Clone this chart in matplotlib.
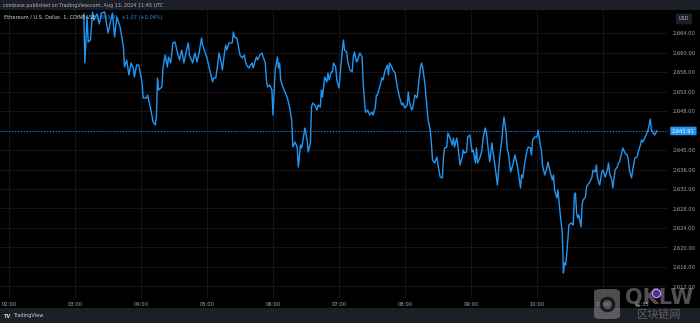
import matplotlib
matplotlib.use("Agg")
import matplotlib.pyplot as plt
from matplotlib.patches import Rectangle, FancyBboxPatch
from matplotlib.lines import Line2D
from matplotlib.transforms import blended_transform_factory

# ETH/USD 1 minute, Coinbase - minutes counted from 02:00 UTC
minutes = [68, 69, 71, 72, 74, 76, 77, 80, 82, 84, 87, 90, 94, 96, 98, 101, 104, 105, 107, 109,
           111, 113, 114, 116, 118, 121, 122, 125, 126, 129, 131, 133, 134, 135, 136, 139, 140, 142, 144, 145,
           147, 149, 151, 153, 155, 157, 159, 162, 163, 164, 167, 169, 171, 173, 175, 176, 180, 182, 184, 185,
           186, 188, 190, 191, 193, 194, 196, 197, 198, 200, 203, 204, 205, 207, 208, 210, 212, 214, 215, 216,
           218, 221, 222, 224, 225, 226, 228, 230, 231, 233, 234, 235, 237, 239, 240, 242, 244, 245, 246, 247,
           249, 252, 253, 254, 255, 257, 258, 260, 262, 263, 265, 266, 267, 269, 271, 272, 274, 275, 276, 278,
           280, 281, 283, 284, 285, 287, 289, 290, 291, 293, 294, 295, 297, 298, 300, 302, 303, 304, 305, 307,
           308, 310, 312, 313, 314, 316, 317, 319, 321, 322, 324, 325, 326, 328, 330, 331, 333, 334, 335, 337,
           339, 340, 342, 344, 345, 346, 348, 349, 351, 353, 354, 355, 357, 358, 360, 362, 363, 364, 366, 367,
           369, 371, 372, 374, 375, 376, 378, 380, 381, 383, 384, 385, 387, 389, 390, 392, 394, 395, 396, 398,
           399, 401, 403, 404, 405, 407, 408, 410, 412, 413, 414, 416, 417, 419, 421, 422, 424, 425, 426, 428,
           430, 431, 433, 434, 435, 437, 439, 440, 442, 444, 445, 446, 448, 449, 450, 452, 453, 454, 456, 458,
           460, 462, 463, 465, 466, 467, 469, 471, 472, 474, 475, 476, 478, 480, 481, 483, 484, 485, 487, 489,
           490, 492, 494, 495, 496, 498, 499, 501, 503, 504, 505, 506, 507, 508, 509, 511, 513, 514, 515, 516,
           517, 518, 520, 521, 522, 524, 525, 526, 528, 530, 531, 533, 534, 535, 537, 539, 540, 542, 544, 545,
           546, 548, 549, 551, 553, 554, 555, 557, 558, 560, 562, 563, 564, 566, 567, 569, 571, 572, 574, 575,
           576, 578, 580, 581, 583, 584, 585, 587, 589]

prices = [2667.90, 2657.85, 2667.28, 2662.15, 2662.56, 2668.31, 2666.67, 2667.90, 2665.85, 2668.10,
          2668.31, 2664.00, 2668.10, 2663.18, 2667.28, 2665.23, 2661.13, 2657.03, 2658.46, 2655.38,
          2657.85, 2656.82, 2654.97, 2657.44, 2657.44, 2653.74, 2650.67, 2650.67, 2651.28, 2648.21,
          2645.74, 2645.13, 2646.77, 2654.77, 2652.31, 2652.92, 2656.82, 2659.49, 2657.03, 2659.08,
          2657.85, 2661.95, 2662.15, 2660.10, 2658.46, 2660.51, 2657.85, 2661.13, 2661.95, 2659.49,
          2657.85, 2659.90, 2658.05, 2660.10, 2662.97, 2661.54, 2658.87, 2656.82, 2654.97, 2653.95,
          2654.77, 2654.77, 2658.05, 2659.90, 2657.85, 2656.41, 2660.10, 2661.54, 2660.51, 2661.95,
          2661.95, 2664.21, 2663.18, 2662.97, 2661.95, 2659.49, 2658.87, 2659.49, 2658.05, 2657.44,
          2656.82, 2657.85, 2656.82, 2658.46, 2659.08, 2658.46, 2659.49, 2659.90, 2659.08, 2657.85,
          2654.36, 2652.92, 2653.33, 2652.31, 2647.18, 2656.41, 2659.08, 2656.82, 2657.85, 2654.36,
          2652.92, 2651.28, 2650.67, 2649.85, 2648.82, 2646.15, 2640.61, 2641.64, 2640.61, 2636.51,
          2641.02, 2640.41, 2641.64, 2644.51, 2642.05, 2639.59, 2641.44, 2648.82, 2649.64, 2649.23,
          2648.21, 2649.23, 2648.82, 2652.31, 2650.87, 2654.97, 2653.95, 2655.80, 2654.36, 2656.00,
          2656.00, 2657.85, 2657.03, 2654.36, 2652.72, 2657.85, 2660.51, 2662.56, 2660.51, 2660.10,
          2658.05, 2656.41, 2656.00, 2659.08, 2660.10, 2658.05, 2658.46, 2659.90, 2659.08, 2653.74,
          2647.80, 2647.80, 2648.21, 2647.18, 2647.80, 2647.18, 2648.82, 2651.28, 2651.28, 2652.92,
          2654.77, 2654.36, 2656.41, 2657.44, 2655.38, 2657.85, 2657.03, 2656.41, 2655.80, 2652.92,
          2651.90, 2650.87, 2649.23, 2649.64, 2648.62, 2649.23, 2651.90, 2649.85, 2648.21, 2648.62,
          2651.28, 2650.67, 2652.92, 2656.82, 2657.85, 2657.03, 2653.74, 2648.82, 2646.15, 2644.10,
          2641.44, 2637.95, 2637.33, 2638.56, 2636.92, 2634.46, 2634.26, 2638.56, 2640.41, 2640.61,
          2643.49, 2642.46, 2641.02, 2642.46, 2640.61, 2642.46, 2641.02, 2636.92, 2638.56, 2640.00,
          2639.38, 2639.59, 2642.67, 2643.08, 2639.59, 2640.00, 2637.33, 2640.41, 2637.33, 2638.36,
          2640.00, 2642.46, 2644.51, 2643.69, 2641.44, 2637.54, 2641.44, 2639.59, 2636.51, 2632.82,
          2635.49, 2638.36, 2642.05, 2644.72, 2646.77, 2643.49, 2640.00, 2639.38, 2635.49, 2636.92,
          2638.97, 2636.92, 2635.49, 2632.21, 2634.87, 2634.26, 2637.54, 2640.00, 2640.61, 2640.41,
          2638.97, 2642.05, 2642.67, 2642.67, 2644.10, 2641.02, 2640.00, 2636.92, 2634.87, 2636.31,
          2637.54, 2635.49, 2633.85, 2634.87, 2631.80, 2630.15, 2631.80, 2627.08, 2622.97, 2614.77,
          2616.82, 2616.41, 2618.46, 2621.54, 2624.62, 2625.03, 2624.62, 2630.77, 2631.18, 2627.08,
          2626.05, 2626.67, 2624.21, 2628.72, 2629.74, 2630.36, 2632.41, 2632.82, 2633.44, 2634.46,
          2635.90, 2635.49, 2636.92, 2634.26, 2632.82, 2635.49, 2635.90, 2634.46, 2635.90, 2637.33,
          2635.28, 2633.85, 2632.21, 2635.90, 2636.51, 2637.33, 2637.54, 2639.38, 2640.41, 2639.38,
          2638.97, 2637.95, 2635.90, 2634.26, 2635.90, 2638.36, 2638.56, 2639.59, 2641.02, 2642.05,
          2641.64, 2642.46, 2643.49, 2644.10, 2646.36, 2644.10, 2643.69, 2643.08, 2643.91]

last_price = 2643.91
price_ticks = [2612, 2616, 2620, 2624, 2628, 2632, 2636, 2640, 2648, 2652, 2656, 2660, 2664]
time_ticks = [0, 60, 120, 180, 240, 300, 360, 420, 480, 540, 575]
time_labels = ["02:00", "03:00", "04:00", "05:00", "06:00", "07:00", "08:00", "09:00", "10:00", "11:00", "11:35"]

line_col = "#2196f3"
text_col = "#a8abb3"
band_col = "#1c1f27"
grid_col = "#15181e"

fig = plt.figure(figsize=(7, 3.23), dpi=100, facecolor="black")

# top and bottom bands
fig.patches.append(Rectangle((0, 313 / 323), 1, 10 / 323, transform=fig.transFigure,
                             facecolor=band_col, edgecolor="none", zorder=0))
fig.patches.append(Rectangle((0, 0), 1, 15 / 323, transform=fig.transFigure,
                             facecolor=band_col, edgecolor="none", zorder=0))

ax = fig.add_axes([0, 25 / 323, 668 / 700, 288 / 323], facecolor="black")
ax.set_xlim(-8.18, 599.1)
ax.set_ylim(2609.64, 2668.72)

for t in time_ticks[:-1]:
    ax.axvline(t, color=grid_col, lw=0.6, zorder=0)
for p in price_ticks + [2644]:
    ax.axhline(p, color=grid_col, lw=0.6, zorder=0)

ax.plot(minutes, prices, color=line_col, lw=1.0, zorder=3)
ax.axhline(last_price, color=line_col, lw=0.7, ls=(0, (1, 2)), zorder=2)

for s in ax.spines.values():
    s.set_visible(False)
ax.yaxis.tick_right()
ax.set_yticks(price_ticks)
ax.set_yticklabels([f"{p:,.2f}" for p in price_ticks])
ax.set_xticks(time_ticks)
ax.set_xticklabels(time_labels)
ax.tick_params(axis="both", length=0, labelsize=3.7, colors=text_col)
ax.tick_params(axis="y", pad=3)
ax.tick_params(axis="x", pad=3)

# last price tag on the price scale
tr = blended_transform_factory(ax.transAxes, ax.transData)
ax.text(1.006, last_price, f"{last_price:,.2f}", transform=tr, color="white", fontsize=3.7,
        va="center", ha="left", clip_on=False, zorder=5,
        bbox=dict(boxstyle="round,pad=0.35,rounding_size=0.2", fc=line_col, ec="none"))

# legend line inside the chart
ax.text(4 / 668, 1 - 7 / 288, "Ethereum / U.S. Dollar, 1, COINBASE", transform=ax.transAxes,
        color="#d1d4dc", fontsize=3.6, va="center", ha="left", zorder=6)
ax.text(96 / 668, 1 - 7 / 288, "2,643.91  +1.07 (+0.04%)", transform=ax.transAxes,
        color=line_col, fontsize=3.6, va="center", ha="left", zorder=6)

# header and footer text
fig.text(3 / 700, 1 - 5 / 323, "coinbase published on TradingView.com, Aug 13, 2024 11:45 UTC",
         color="#b2b5be", fontsize=3.5, va="center", ha="left")
fig.text(684 / 700, 1 - 19 / 323, "USD", color="#b2b5be", fontsize=3.5, va="center", ha="center",
         bbox=dict(boxstyle="round,pad=0.6,rounding_size=0.3", fc=band_col, ec="none"))
fig.text(4 / 700, 7 / 323, "TV", color="#d1d4dc", fontsize=3.6, fontweight="bold", va="center", ha="left")
fig.text(13 / 700, 7 / 323, "TradingView", color="#d1d4dc", fontsize=3.6, va="center", ha="left")

# site watermark
fig.patches.append(FancyBboxPatch((594 / 700, 4 / 323), 26 / 700, 30 / 323,
                                  boxstyle="round,pad=0,rounding_size=0.01", transform=fig.transFigure,
                                  fc="#9a9a9a", ec="none", alpha=0.5, zorder=7))
fig.add_artist(Line2D([607 / 700], [19 / 323], transform=fig.transFigure, marker="o", markersize=9,
                      markerfacecolor="none", markeredgecolor="black", markeredgewidth=2.2,
                      alpha=0.7, zorder=8))
fig.text(659 / 700, 25 / 323, "QKLW", color="#a0a0a0", alpha=0.5, fontsize=15, fontweight="bold",
         va="center", ha="center", family="DejaVu Sans", zorder=9)
fig.text(659 / 700, 9 / 323, "区块链网", color="#a0a0a0", alpha=0.5, fontsize=8,
         va="center", ha="center", family=["Noto Sans CJK SC", "DejaVu Sans"], zorder=9)
fig.add_artist(Line2D([656 / 700], [30 / 323], transform=fig.transFigure, marker="o", markersize=6,
                      markerfacecolor="#5a2a9a", markeredgecolor="#c9a2ff", markeredgewidth=0.8,
                      zorder=10))

fig.savefig("out.png", dpi=100, facecolor="black")
